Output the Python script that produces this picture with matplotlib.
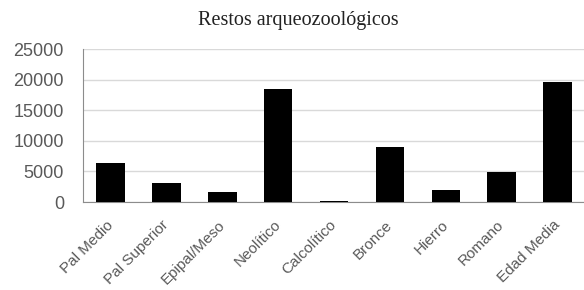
import matplotlib
matplotlib.use("Agg")
import matplotlib.pyplot as plt
import numpy as np

# restos por periodo
periodos = ["Pal Medio", "Pal Superior", "Epipal/Meso", "Neolítico", "Calcolítico",
            "Bronce", "Hierro", "Romano", "Edad Media"]
restos = [6300, 3050, 1700, 18400, 200, 9050, 1900, 4900, 19650]
yticks = [0, 5000, 10000, 15000, 20000, 25000]

GRAY = "#595959"

fig = plt.figure(figsize=(5.84, 2.90), dpi=100)
ax = fig.add_axes([0.1416, 0.3034, 0.861, 0.5276])

x = np.arange(len(periodos))
ax.bar(x, restos, width=0.51, color="black", zorder=3)

ax.set_xlim(-0.5, 8.5)
ax.set_ylim(0, 25000)
ax.set_yticks(yticks)
ax.set_yticklabels([str(v) for v in yticks], family="Liberation Sans",
                   fontsize=13, color=GRAY)
ax.set_xticks(x)
ax.set_xticklabels(periodos, family="Liberation Sans", fontsize=11, color=GRAY,
                   rotation=45, ha="right", va="center", rotation_mode="anchor")
ax.tick_params(axis="y", length=0, pad=13.5)
ax.tick_params(axis="x", length=0, pad=15)

ax.grid(axis="y", color="#d9d9d9", linewidth=1.0, zorder=0)
for s in ["top", "right"]:
    ax.spines[s].set_visible(False)
ax.spines["left"].set_color("#8c8c8c")
ax.spines["bottom"].set_color("#8c8c8c")

fig.text(0.51, 0.931, "Restos arqueozoológicos", family="Liberation Serif",
         fontsize=14.5, ha="center", va="center", color="#222222")

fig.savefig("out.png", dpi=100)
